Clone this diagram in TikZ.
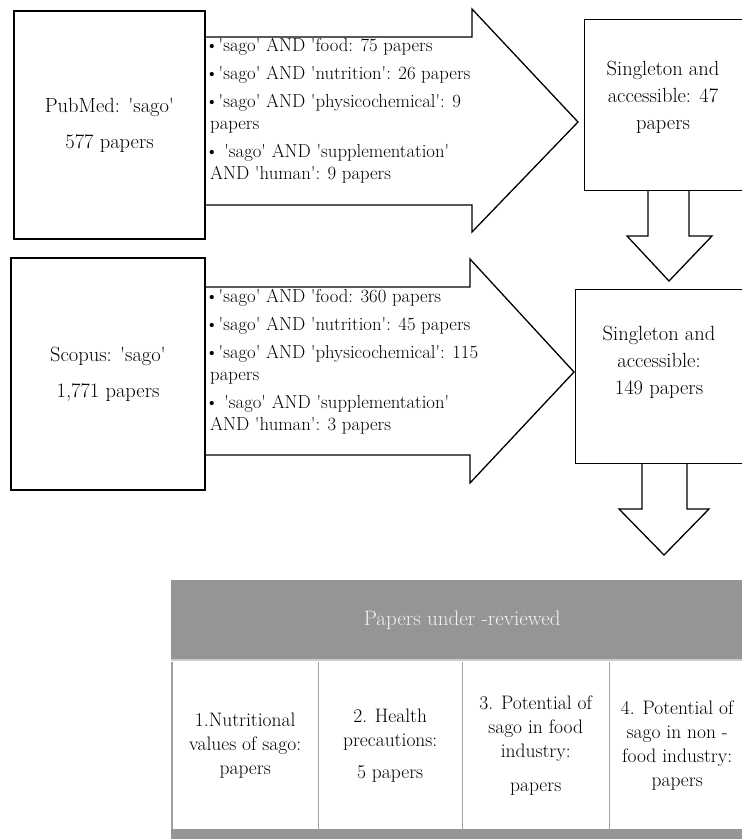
\documentclass[tikz,border=0pt]{standalone}
\definecolor{hdrgray}{HTML}{959595}
\definecolor{rulegray}{HTML}{A0A0A0}
\definecolor{palegray}{HTML}{CDCDCD}
\newcommand{\sq}{\textquotesingle}
\newcommand{\txt}{\fontsize{18.7}{22}\selectfont}
\tikzset{
	srcbox/.style = {draw, line width=1.3pt, inner sep=0pt, align=center, font=\fontsize{20.5}{22}\selectfont},
	hitbox/.style = {draw, line width=1.3pt, inner sep=0pt, anchor=north west},
	blockarrow/.style = {draw, line width=1.3pt, line join=miter},
	terms/.style = {anchor=north west, inner sep=0pt, align=left, font=\txt},
	hittext/.style = {align=center, inner sep=0pt, font=\fontsize{20.5}{27}\selectfont},
	cell/.style = {anchor=north west, inner sep=0pt, minimum height=167pt, align=center, font=\fontsize{19.5}{24}\selectfont},
	cellrule/.style = {rulegray, line width=1.3pt},
}

\begin{document}
\begin{tikzpicture}[x=1pt, y=-1pt]
	\useasboundingbox (0,0) rectangle (742,839);
	\clip (0,0) rectangle (742,839);

	% search boxes
	\node[srcbox, minimum width=191pt, minimum height=228pt] (pubmed) at (109.5,125) {PubMed: \sq sago\sq\\[14pt]577 papers};
	\node[srcbox, minimum width=194pt, minimum height=232pt] (scopus) at (108,374) {Scopus: \sq sago\sq\\[14pt]1,771 papers};

	% block arrows to the right
	\draw[blockarrow] (205,37) -- (472,37) -- (472,9) -- (578,122) -- (472,232) -- (472,205) -- (205,205);
	\draw[blockarrow] (205,287) -- (470,287) -- (470,259) -- (574,372) -- (470,483) -- (470,455) -- (205,455);

	\node[terms] (pmterms) at (205,38) {\textbullet\sq sago\sq{} AND \sq food: 75 papers\\[6pt]
		\textbullet\sq sago\sq{} AND \sq nutrition\sq: 26 papers\\[6pt]
		\textbullet\sq sago\sq{} AND \sq physicochemical\sq: 9\\
		\hspace*{5pt}papers\\[6pt]
		\textbullet{} \sq sago\sq{} AND \sq supplementation\sq\\
		\hspace*{5pt}AND \sq human\sq: 9 papers};
	\node[terms] (scterms) at (205,289) {\textbullet\sq sago\sq{} AND \sq food: 360 papers\\[6pt]
		\textbullet\sq sago\sq{} AND \sq nutrition\sq: 45 papers\\[6pt]
		\textbullet\sq sago\sq{} AND \sq physicochemical\sq: 115\\
		\hspace*{5pt}papers\\[6pt]
		\textbullet{} \sq sago\sq{} AND \sq supplementation\sq\\
		\hspace*{5pt}AND \sq human\sq: 3 papers};

	% singleton boxes
	\node[hitbox, minimum width=180pt, minimum height=171pt] (hits1) at (584,19) {};
	\node[hittext] (hits1txt) at (663,97) {Singleton and\\accessible: 47\\papers};
	\node[hitbox, minimum width=190pt, minimum height=174pt] (hits2) at (575,289) {};
	\node[hittext] (hits2txt) at (659,362) {Singleton and\\accessible:\\149 papers};

	% block arrows downwards
	\draw[blockarrow] (648,190) -- (648,236) -- (627,236) -- (669,281) -- (712,236) -- (689,236) -- (689,190);
	\draw[blockarrow] (642,463) -- (642,509) -- (619,509) -- (664,555) -- (709,509) -- (687,509) -- (687,463);

	% reviewed papers
	\node[fill=hdrgray, minimum width=574pt, minimum height=80pt, anchor=north west, inner sep=0pt,
		text=white!95!black, font=\fontsize{21}{24}\selectfont] (revhead) at (171,580) {\hspace*{8pt}Papers under -reviewed};
	\node[cell, minimum width=146pt] (cell1) at (172,662) {1.Nutritional\\values of sago:\\papers};
	\node[cell, minimum width=144pt] (cell2) at (318,662) {2. Health\\precautions:\\[8pt]5 papers};
	\node[cell, minimum width=147pt] (cell3) at (462,662) {3. Potential of\\sago in food\\industry:\\[10pt]papers};
	\node[cell, minimum width=136pt] (cell4) at (609,662) {4. Potential of\\sago in non -\\food industry:\\papers};
	\draw[cellrule] (cell1.north west) -- (cell1.south west);
	\foreach \c in {cell1, cell2, cell3}
		{\draw[cellrule] (\c.north east) -- (\c.south east);}
	\draw[palegray, line width=2pt] (revhead.south west) -- (revhead.south east);
	\fill[hdrgray] (171,829) rectangle (745,845);
\end{tikzpicture}
\end{document}
